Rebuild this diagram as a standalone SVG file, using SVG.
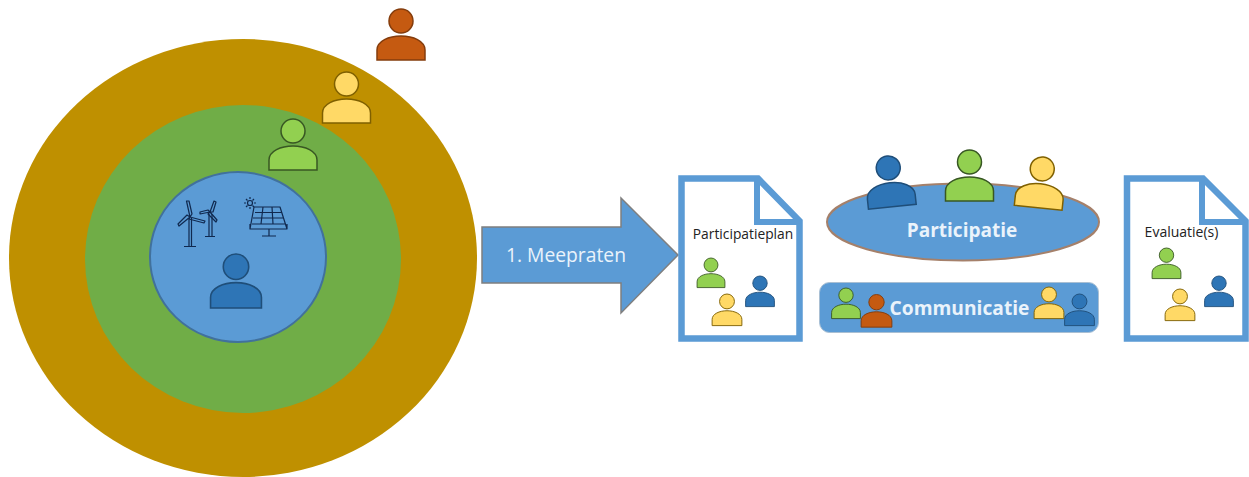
<svg xmlns="http://www.w3.org/2000/svg" width="1249" height="477" viewBox="0 0 1249 477">
<style>
.lbl{font-family:"Open Sans","Noto Sans",sans-serif}
.ic{fill:none;stroke:#10294f;stroke-width:1.2;stroke-linejoin:round}
.or{fill:#c55a11;stroke:#843c0c}
.ye{fill:#ffd966;stroke:#7f6000}
.gr{fill:#92d050;stroke:#385723}
.bl{fill:#2e75b6;stroke:#1f4e79}
.doc{fill:#fff;stroke:#5b9bd5;stroke-width:6.5;stroke-linejoin:miter}
.fold{fill:none;stroke:#5b9bd5;stroke-width:6}
</style>
<defs>
<g id="p" stroke-width="1.5">
<circle cx="0" cy="12" r="12"/>
<path d="M-24 51V41C-24 32-12 27 0 27S24 32 24 41V51Z"/>
</g>
</defs>
<g id="rings">
<ellipse cx="243" cy="258" rx="234" ry="219" fill="#bf9000"/>
<ellipse cx="243" cy="259" rx="158" ry="154" fill="#70ad47"/>
<ellipse cx="238" cy="257" rx="88" ry="85" fill="#5b9bd5" stroke="#41719c" stroke-width="2"/>
</g>
<g id="wind" class="ic">
<path d="M189 218V246M191.500 218V246M184 246.500H196"/>
<path d="M190 217L186.500 201L189 201L192 214ZM190 217L179 226L178 224L187 215ZM190 217L205 221L204 223L189 219Z"/>
<path d="M209 214V236M212 214V236M205 236.500H215"/>
<path d="M210 212L214 201L216 202L213 212ZM210 212L200 214L200 212L208 210ZM210 212L217 220L216 222L208 214Z"/>
</g>
<g id="solar" class="ic">
<path d="M254 207H280L287 229H250ZM252 224H285.500M253 218H284M255 212.500H282M263 207L261 224M272 207L273 224M250 224V229M287 224V229M269 229V236M262 236H276"/>
<circle cx="250" cy="203" r="2.500"/>
<path d="M250 197V199M250 207V209M244 203H246M254 203H256M246 199L247.500 200.500M252.500 205.500L254 207M246 207L247.500 205.500M252.500 200.500L254 199"/>
</g>
<g id="person-stakeholder-orange"><use href="#p" class="or" transform="translate(401 9)"/></g>
<g id="person-stakeholder-yellow"><use href="#p" class="ye" transform="translate(346.500 72)"/></g>
<g id="person-stakeholder-green"><use href="#p" class="gr" transform="translate(293 119)"/></g>
<g id="person-stakeholder-blue"><use href="#p" class="bl" transform="translate(236 254) scale(1.06)"/></g>
<g id="connectors">
<path d="M482 227H621V198L678 255L621 313V283H482Z" fill="#5b9bd5" stroke="#7f7f7f" stroke-width="1.500"/>
<text class="lbl" x="566" y="262" font-size="19.300" fill="#eaf3fb" text-anchor="middle">1. Meepraten</text>
</g>
<g id="doc-participatieplan">
<path class="doc" d="M681.500 178.500H758L799.500 221V338.500H681.500Z"/>
<path class="fold" d="M757 178V222H800"/>
<text class="lbl" x="743" y="238.500" font-size="13.800" fill="#222" text-anchor="middle">Participatieplan</text>
<use href="#p" class="gr" transform="translate(711 258) scale(.58)"/>
<use href="#p" class="bl" transform="translate(760 276) scale(.6)"/>
<use href="#p" class="ye" transform="translate(727 294) scale(.62)"/>
</g>
<g id="participatie">
<ellipse cx="963" cy="222" rx="136" ry="38.500" fill="#5b9bd5" stroke="#a5806a" stroke-width="2"/>
<use href="#p" class="bl" transform="translate(887 156) rotate(-6)"/>
<use href="#p" class="gr" transform="translate(969.500 150)"/>
<use href="#p" class="ye" transform="translate(1043.500 157) rotate(6)"/>
<text class="lbl" x="962" y="237" font-size="19" font-weight="700" fill="#eaf3fb" text-anchor="middle">Participatie</text>
</g>
<g id="communicatie">
<rect x="819.500" y="282.500" width="279" height="50" rx="10" fill="#5b9bd5" stroke="#a9bfd3" stroke-width="1"/>
<use href="#p" class="gr" transform="translate(846 288) scale(.6)"/>
<use href="#p" class="or" transform="translate(876.500 294.500) scale(.64)"/>
<use href="#p" class="ye" transform="translate(1049 287) scale(.62)"/>
<use href="#p" class="bl" transform="translate(1079.500 294) scale(.62)"/>
<text class="lbl" x="959.500" y="315" font-size="19.200" font-weight="700" fill="#eaf3fb" text-anchor="middle">Communicatie</text>
</g>
<g id="doc-evaluaties">
<path class="doc" d="M1127 178.500H1203L1245.500 221V338.500H1127Z"/>
<path class="fold" d="M1202 178V222H1246"/>
<text class="lbl" x="1181.500" y="236.500" font-size="14" fill="#222" text-anchor="middle">Evaluatie(s)</text>
<use href="#p" class="gr" transform="translate(1166.500 248) scale(.6)"/>
<use href="#p" class="bl" transform="translate(1219 276) scale(.6)"/>
<use href="#p" class="ye" transform="translate(1180 289) scale(.62)"/>
</g>
</svg>
